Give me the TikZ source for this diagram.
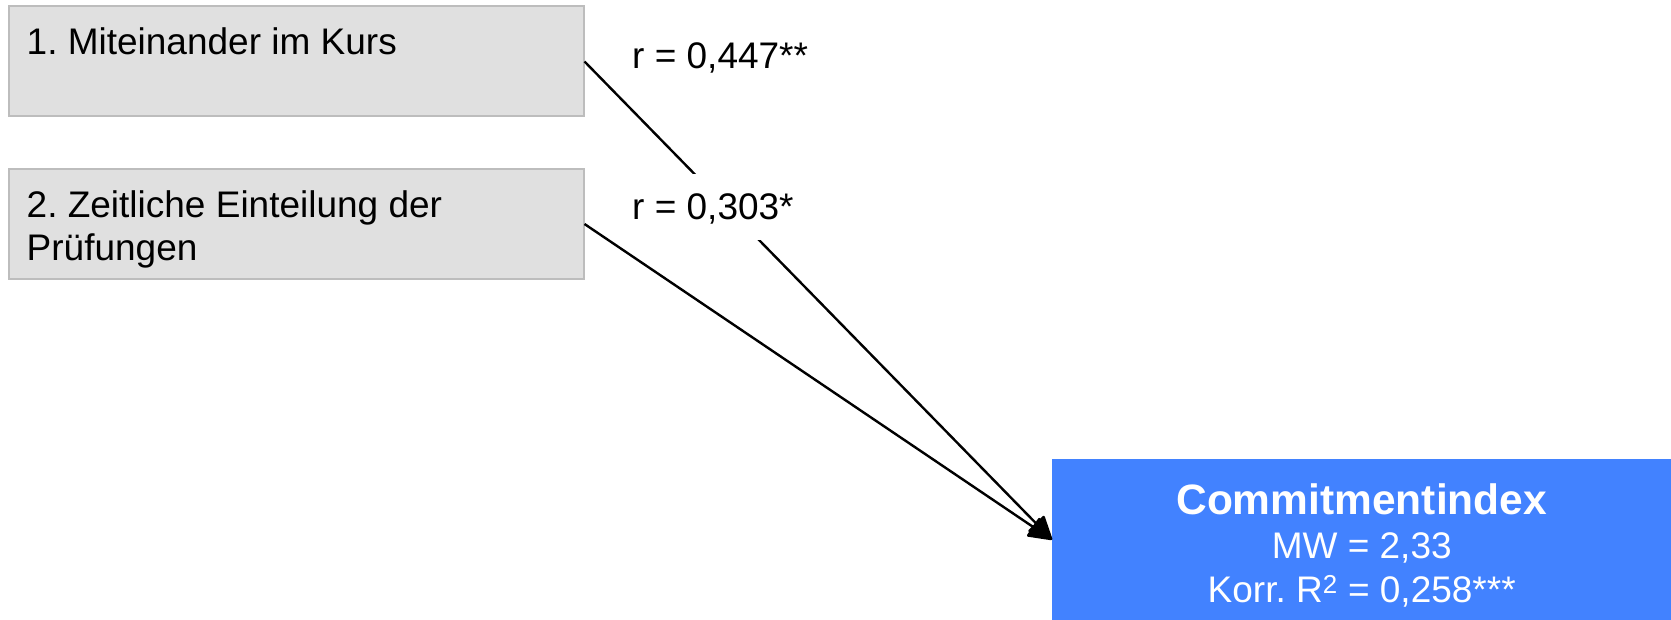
\documentclass[tikz,border=0pt]{standalone}
\usepackage{fontspec}
\setmainfont{Liberation Sans}
\usetikzlibrary{arrows.meta}
\definecolor{boxgray}{HTML}{E0E0E0}
\definecolor{boxline}{HTML}{BDBDBD}
\definecolor{ciblue}{HTML}{4282FF}
\frenchspacing

\begin{document}
\begin{tikzpicture}[x=1pt, y=-1pt,
    factor/.style={draw=boxline, line width=2pt, fill=boxgray, anchor=north west,
        minimum width=575pt, minimum height=110pt, inner sep=0pt},
    factortext/.style={anchor=north west, align=left, inner xsep=19pt, inner ysep=22pt,
        font=\fontsize{37}{43}\selectfont},
    corr/.style={anchor=base west, fill=white, inner sep=14pt, text height=32pt,
        text depth=6pt, font=\fontsize{37}{43}\selectfont},
    link/.style={line width=2.4pt, -{Triangle[length=25pt, width=23pt, round]}}]
    \useasboundingbox (0,0) rectangle (1671,620);
    \node[factor] (kurs) at (7.5,5.5) {};
    \node[factortext] (kurstext) at (kurs.north west) {1. Miteinander im Kurs};
    \node[factor] (pruefung) at (7.5,168) {};
    \node[factortext] (pruefungtext) at (pruefung.north west) {2. Zeitliche Einteilung der\\Prüfungen};
    \node[fill=ciblue, minimum width=619pt, minimum height=161pt, inner sep=0pt,
        anchor=north west] (ci) at (1052,459) {};
    \node[text=white, align=center, font=\fontsize{37}{44}\selectfont] (citext)
        at ([yshift=-6pt]ci.center)
        {{\fontsize{42.5}{44}\selectfont\bfseries Commitmentindex}\\MW = 2,33\\Korr. R\textsuperscript{2} = 0,258***};
    \draw[link] (kurs.east) -- (ci.west);
    \draw[link] (pruefung.east) -- (ci.west);
    \node[corr] (rkurs) at (618,69) {r = 0,447**};
    \node[corr] (rpruefung) at (618,220) {r = 0,303*};
\end{tikzpicture}
\end{document}
